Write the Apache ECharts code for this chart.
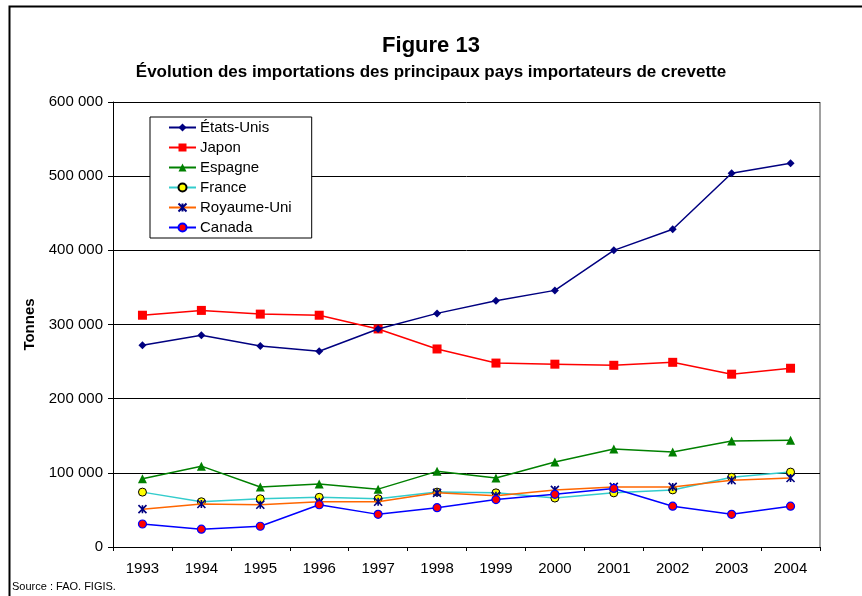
<!DOCTYPE html>
<html><head><meta charset="utf-8">
<script src="https://cdn.jsdelivr.net/npm/echarts@6/dist/echarts.min.js"></script>
<style>html,body{margin:0;padding:0;background:#fff}#c{width:862px;height:596px}</style>
</head><body><div id="c"></div>
<script>
const years = ['1993','1994','1995','1996','1997','1998','1999','2000','2001','2002','2003','2004'];
const etatsUnis = [272000,285500,271000,264000,294000,315000,332000,346000,400000,428500,504000,517500];
const japon = [312500,319000,314000,312500,294000,267000,248000,246500,245000,249000,233000,241000];
const espagne = [92000,109000,81000,85000,78000,102000,93000,114500,132000,128000,143000,144000];
const france = [74000,61000,65000,67000,65000,74000,73000,66000,73000,77000,94000,101000];
const royaumeUni = [51000,58000,57000,61000,61000,73000,69000,77000,81000,81000,90000,93000];
const canada = [31000,24000,28000,57000,44000,53000,64000,71000,79000,55000,44000,55000];
const yTicks = [0,100000,200000,300000,400000,500000,600000];

const FONT = "'Liberation Sans', Arial, sans-serif";
const chart = echarts.init(document.getElementById('c'));
const fmt = v => String(v).replace(/\B(?=(\d{3})+(?!\d))/g, ' ');
const starPath = 'path://M0,0L10,10M10,0L0,10M5,0L5,10';

chart.setOption({
  animation: false,
  backgroundColor: '#fff',
  textStyle: { fontFamily: FONT, color: '#000' },
  title: [
    { text: 'Figure 13', left: 'center', top: 30, textStyle: { fontFamily: FONT, fontSize: 22, fontWeight: 'bold', color: '#000' } },
    { text: 'Évolution des importations des principaux pays importateurs de crevette', left: 'center', top: 59, textStyle: { fontFamily: FONT, fontSize: 17, fontWeight: 'bold', color: '#000' } }
  ],
  legend: {
    orient: 'vertical', left: 150, top: 117,
    backgroundColor: '#fff', borderColor: '#000', borderWidth: 1,
    padding: [3, 20, 3, 18],
    itemWidth: 27, itemHeight: 10, itemGap: 5,
    textStyle: { fontFamily: FONT, fontSize: 15, color: '#000', padding: [0,0,0,-1] },
    data: ['États-Unis','Japon','Espagne','France','Royaume-Uni','Canada']
  },
  grid: { left: 113, top: 102, right: 42, bottom: 49, containLabel: false },
  xAxis: {
    type: 'category', data: years, boundaryGap: true,
    axisLine: { lineStyle: { color: '#000', width: 1 } },
    axisTick: { show: true, alignWithLabel: false, length: 4, lineStyle: { color: '#000' } },
    axisLabel: { fontFamily: FONT, fontSize: 15, color: '#000', margin: 14 }
  },
  yAxis: {
    type: 'value', min: 0, max: 600000, interval: 100000,
    name: 'Tonnes', nameLocation: 'middle', nameRotate: 90, nameGap: 76,
    nameTextStyle: { fontFamily: FONT, fontSize: 15, fontWeight: 'bold', color: '#000' },
    axisLine: { show: true, lineStyle: { color: '#000' } },
    axisTick: { show: true, length: 5, lineStyle: { color: '#000' } },
    axisLabel: { fontFamily: FONT, fontSize: 15, color: '#000', margin: 10, formatter: fmt },
    splitLine: { lineStyle: { color: '#000', width: 1 } }
  },
  series: [
    { name: 'États-Unis', type: 'line', data: etatsUnis, symbol: 'diamond', symbolSize: 8,
      lineStyle: { color: '#000080', width: 1.5 }, itemStyle: { color: '#000080' }, z: 8 },
    { name: 'Japon', type: 'line', data: japon, symbol: 'rect', symbolSize: 9,
      lineStyle: { color: '#ff0000', width: 1.5 }, itemStyle: { color: '#ff0000' }, z: 7 },
    { name: 'Espagne', type: 'line', data: espagne, symbol: 'triangle', symbolSize: 9,
      lineStyle: { color: '#008000', width: 1.5 }, itemStyle: { color: '#008000' }, z: 6 },
    { name: 'France', type: 'line', data: france, symbol: 'circle', symbolSize: 8,
      lineStyle: { color: '#33cccc', width: 1.5 }, itemStyle: { color: '#ffff00', borderColor: '#000', borderWidth: 1 }, z: 3 },
    { name: 'Royaume-Uni', type: 'line', data: royaumeUni, symbol: starPath, symbolSize: 8,
      lineStyle: { color: '#ff6600', width: 1.5 }, itemStyle: { color: 'none', borderColor: '#000080', borderWidth: 1.6 }, z: 4 },
    { name: 'Canada', type: 'line', data: canada, symbol: 'circle', symbolSize: 8,
      lineStyle: { color: '#0000ff', width: 1.5 }, itemStyle: { color: '#ff0000', borderColor: '#0000ff', borderWidth: 1.2 }, z: 5 }
  ],
  graphic: [
    { type: 'rect', left: 7, top: 4, silent: true, z: -10,
      shape: { width: 900, height: 700 }, style: { fill: 'none', stroke: '#000', lineWidth: 2 } },
    { type: 'line', silent: true, shape: { x1: 820, y1: 102, x2: 820, y2: 547 },
      style: { stroke: '#a0a0a0', lineWidth: 2 } },
    { type: 'text', left: 12, top: 581, silent: true,
      style: { text: 'Source : FAO. FIGIS.', font: "11px 'Liberation Sans', Arial, sans-serif", fill: '#000' } }
  ]
});
</script>
</body></html>
